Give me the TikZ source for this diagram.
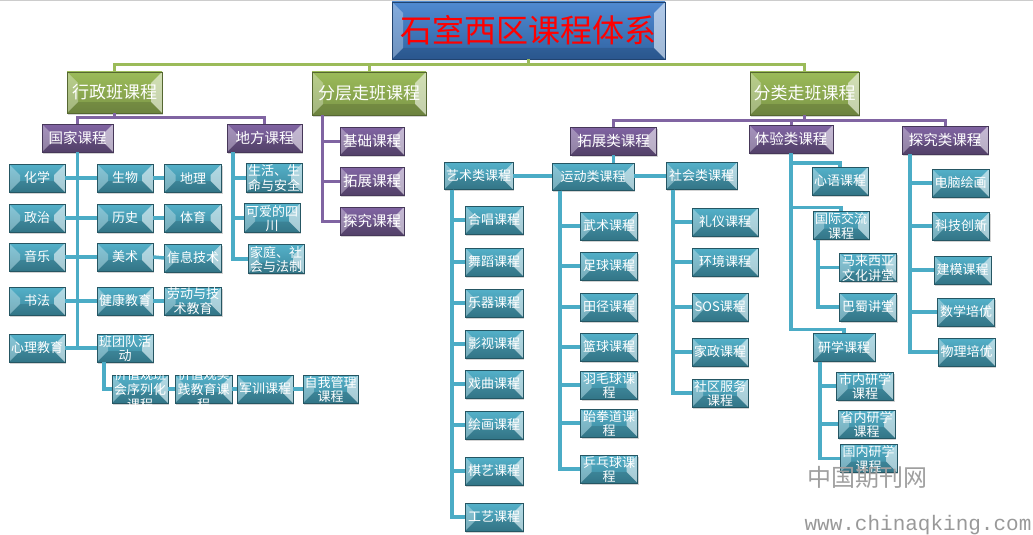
\documentclass[tikz,border=0pt]{standalone}
\usepackage{fontspec}
\setmainfont{Noto Sans CJK SC}
\newfontfamily\wmmono{Liberation Mono}
\usepackage{tikz}
\usetikzlibrary{shadows}

\definecolor{titleblue}{HTML}{3C7CCB}
\definecolor{olivegreen}{HTML}{9BBB59}
\definecolor{lavender}{HTML}{8064A2}
\definecolor{aqua}{HTML}{4BACC6}

\newcommand\twoln[2]{\smash{\raisebox{-5pt}{\begin{tabular}{@{}c@{}}#1\\#2\end{tabular}}}}
\newcommand\threeln[3]{\smash{\raisebox{-5pt}{\begin{tabular}{@{}c@{}}#1\\#2\\#3\end{tabular}}}}

\tikzset{
    bevel/.style={path picture={
        \path (path picture bounding box.north west) coordinate (bvnw)
              (path picture bounding box.north east) coordinate (bvne)
              (path picture bounding box.south west) coordinate (bvsw)
              (path picture bounding box.south east) coordinate (bvse);
        \fill[white, opacity=.3] (bvnw) -- ([shift={(11pt,-11pt)}]bvnw) -- ([shift={(11pt,11pt)}]bvsw) -- (bvsw) -- cycle;
        \fill[white, opacity=.55] (bvne) -- ([shift={(-11pt,-11pt)}]bvne) -- ([shift={(-11pt,11pt)}]bvse) -- (bvse) -- cycle;
        \fill[black, opacity=.12] (bvsw) -- ([shift={(11pt,11pt)}]bvsw) -- ([shift={(-11pt,11pt)}]bvse) -- (bvse) -- cycle;
    }},
    box/.style={rectangle, inner sep=1pt, align=center, text=white, bevel,
        drop shadow={shadow xshift=1pt, shadow yshift=-1.5pt, opacity=.35}},
    maintitle/.style={box, top color=titleblue!90!white, bottom color=titleblue!80!black,
        draw=titleblue!55!black, text=red, minimum width=273, minimum height=57,
        font=\fontsize{32}{34}\selectfont},
    greenbox/.style={box, top color=olivegreen, bottom color=olivegreen!80!black,
        draw=olivegreen!55!black, minimum height=43, font=\fontsize{17}{19}\selectfont},
    purplebox/.style={box, top color=lavender, bottom color=lavender!75!black,
        draw=lavender!55!black, minimum width=86, minimum height=28,
        font=\fontsize{14.5}{16}\selectfont},
    aquabox/.style={box, top color=aqua!95!white, bottom color=aqua!78!black,
        draw=aqua!50!black, minimum width=57, minimum height=28,
        font=\fontsize{13}{13.5}\selectfont},
    greenlink/.style={olivegreen, line width=3pt},
    purplelink/.style={lavender, line width=3pt},
    aqualink/.style={aqua, line width=3.5pt},
}

\begin{document}
\begin{tikzpicture}[x=1pt, y=-1pt]
    \useasboundingbox (0,0) rectangle (1033,535);
    \draw[gray!40, line width=1pt] (0,1) -- (1033,1);

    % top level
    \node[maintitle] (title) at (528.5,30.5) {石室西区课程体系};
    \node[greenbox, minimum width=95, minimum height=41] (xz) at (114.5,92.5) {行政班课程};
    \node[greenbox, minimum width=114] (fc) at (369,93.5) {分层走班课程};
    \node[greenbox, minimum width=109] (fl) at (804.5,93.5) {分类走班课程};
    \draw[greenlink] (title.south) -- ++(0,6);
    \draw[greenlink] (xz.north) -- ++(0,-7) -| (fl.north);
    \draw[greenlink] (fc.north) -- ++(0,-7);

    % 行政班课程
    \node[purplebox, minimum width=71] (gj) at (77.5,138) {国家课程};
    \node[purplebox, minimum width=75] (df) at (264.5,138) {地方课程};
    \draw[purplelink] (xz.south) -- ++(0,5);
    \draw[purplelink] (gj.north) -- ++(0,-6) -| (df.north);

    \foreach \n/\y/\t in {hx/178/化学, zz/218/政治, yy/257/音乐, sf/301/书法, xl/348/心理教育}
        \node[aquabox, minimum width=56] (\n) at (37,\y) {\t};
    \foreach \n/\y/\t in {sw/178/生物, ls/218/历史, ms/257/美术, jk/301/健康教育, bt/348/{\twoln{班团队活}{动}}}
        \node[aquabox, minimum width=56] (\n) at (125,\y) {\t};
    \foreach \n/\y/\t in {dl/178/地理, ty/218/体育, xx/258/信息技术, ld/301/{\twoln{劳动与技}{术教育}}}
        \node[aquabox] (\n) at (193,\y) {\t};
    \draw[aqualink] (gj.south) -- (gj.south |- xl.east);
    \foreach \a/\b in {hx/sw, zz/ls, yy/ms, sf/jk, xl/bt, sw/dl, ls/ty, ms/xx, jk/ld}
        \draw[aqualink] (\a.east) -- (\b.west);

    \node[aquabox, minimum width=56] (jz1) at (140,389) {\threeln{价值观班}{会序列化}{课程}};
    \node[aquabox] (jz2) at (203.5,389) {\threeln{价值观实}{践教育课}{程}};
    \node[aquabox, minimum width=56] (jz3) at (265,389) {军训课程};
    \node[aquabox, minimum width=55] (jz4) at (330.5,389) {\twoln{自我管理}{课程}};
    \draw[aqualink] ([xshift=7pt]bt.south west) |- (jz1.west);
    \foreach \a/\b in {jz1/jz2, jz2/jz3, jz3/jz4}
        \draw[aqualink] (\a.east) -- (\b.west);

    \foreach \n/\x/\y/\t in {df1/274/178/{\twoln{生活、生}{命与安全}}, df2/272/218/{\twoln{可爱的四}{川}}, df3/276/259/{\twoln{家庭、社}{会与法制}}} {
        \node[aquabox, minimum width=56, minimum height=29] (\n) at (\x,\y) {\t};
        \draw[aqualink] ([xshift=6pt]df.south west) |- (\n.west);
    }

    % 分层走班课程
    \foreach \n/\y/\t in {jc/141/基础课程, tz/181/拓展课程, tj/221/探究课程} {
        \node[purplebox, minimum width=64] (\n) at (372,\y) {\t};
        \draw[purplelink] ([xshift=11pt]fc.south west) |- (\n.west);
    }

    % 分类走班课程
    \node[purplebox] (tzl) at (613.5,141) {拓展类课程};
    \node[purplebox, minimum width=84] (tyl) at (791,139) {体验类课程};
    \node[purplebox] (tjl) at (945,140) {探究类课程};
    \draw[purplelink] (fl.south) -- ++(0,6);
    \draw[purplelink] (tzl.north) -- ++(0,-6) -| (tjl.north);
    \draw[purplelink] (tyl.north) -- ++(0,-4);

    \node[aquabox, minimum width=69, minimum height=27] (ys) at (478.5,176) {艺术类课程};
    \node[aquabox, minimum width=82, minimum height=27] (yd) at (593,177) {运动类课程};
    \node[aquabox, minimum width=71, minimum height=27] (sh) at (701.5,176) {社会类课程};
    \draw[aqualink] (tzl.south) -- (tzl.south |- yd.north);
    \draw[aqualink] (ys.east) -- (ys.east -| yd.west);
    \draw[aqualink] (sh.west -| yd.east) -- (sh.west);

    \foreach \n/\y/\t in {ys1/220/合唱课程, ys2/262/舞蹈课程, ys3/303/乐器课程, ys4/344/影视课程, ys5/384/戏曲课程, ys6/425/绘画课程, ys7/471/棋艺课程, ys8/517/工艺课程} {
        \node[aquabox, minimum width=58] (\n) at (494,\y) {\t};
        \draw[aqualink] ([xshift=8pt]ys.south west) |- (\n.west);
    }
    \foreach \n/\y/\t in {yd1/226/武术课程, yd2/266/足球课程, yd3/307/田径课程, yd4/347/篮球课程, yd5/385/{\twoln{羽毛球课}{程}}, yd6/423/{\twoln{跆拳道课}{程}}, yd7/469/{\twoln{乒乓球课}{程}}} {
        \node[aquabox] (\n) at (609,\y) {\t};
        \draw[aqualink] ([xshift=8pt]yd.south west) |- (\n.west);
    }
    \foreach \n/\y/\w/\t in {sh1/222/66/礼仪课程, sh2/262/66/环境课程, sh3/307/56/SOS课程, sh4/352/56/家政课程, sh5/393/56/{\twoln{社区服务}{课程}}} {
        \node[aquabox, minimum width=\w, anchor=west] (\n) at (692,\y) {\t};
        \draw[aqualink] ([xshift=7pt]sh.south west) |- (\n.west);
    }

    \foreach \n/\x/\y/\w/\t in {xy/840/181/56/心语课程, gjjl/841/225.5/56/{\twoln{国际交流}{课程}}, yx/844/347.5/62/研学课程} {
        \node[aquabox, minimum width=\w] (\n) at (\x,\y) {\t};
        \draw[aqualink] (tyl.south) |- ([yshift=4pt]\n.north) -- (\n.north);
    }
    \foreach \n/\y/\t in {mlxy/267.5/{\twoln{马来西亚}{文化讲堂}}, bs/307/巴蜀讲堂} {
        \node[aquabox] (\n) at (868,\y) {\t};
        \draw[aqualink] ([xshift=5pt]gjjl.south west) |- (\n.west);
    }
    \foreach \n/\x/\y/\t in {sn/865/386/{\twoln{市内研学}{课程}}, shn/866.5/424/{\twoln{省内研学}{课程}}, gn/868.5/458.5/{\twoln{国内研学}{课程}}} {
        \node[aquabox] (\n) at (\x,\y) {\t};
        \draw[aqualink] ([xshift=7pt]yx.south west) |- (\n.west);
    }

    \foreach \n/\x/\y/\t in {dn/960.5/183/电脑绘画, kj/961/226/科技创新, jm/962.5/270/建模课程, sx/966/312/数学培优, wl/966.5/352/物理培优} {
        \node[aquabox] (\n) at (\x,\y) {\t};
        \draw[aqualink] ([xshift=8pt]tjl.south west) |- (\n.west);
    }

    \node[gray!75, font=\fontsize{24}{24}\selectfont] (wm) at (867,477) {中国期刊网};
    \node[gray!80, font=\wmmono\fontsize{21}{21}\selectfont] (wmurl) at (918,525) {www.chinaqking.com};
\end{tikzpicture}
\end{document}
